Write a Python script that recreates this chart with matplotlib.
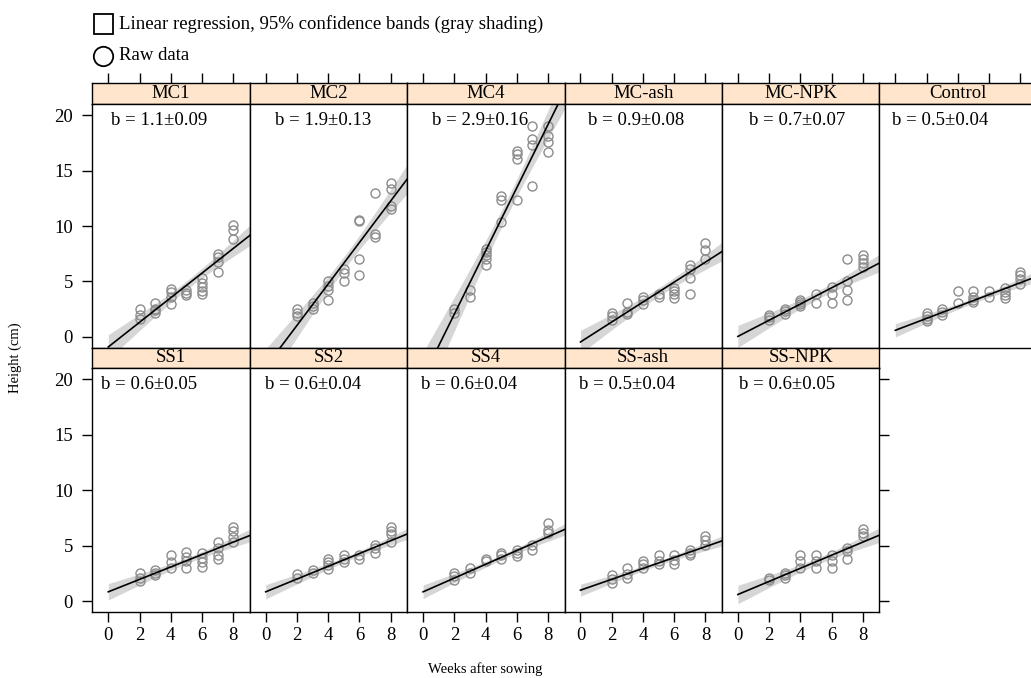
import numpy as np
import matplotlib
matplotlib.use("Agg")
import matplotlib.pyplot as plt
from matplotlib.patches import Rectangle, Circle

plt.rcParams['font.family'] = ['Liberation Serif', 'DejaVu Serif']

# ---------------- data ----------------
panels = ['MC1', 'MC2', 'MC4', 'MC-ash', 'MC-NPK', 'Control',
          'SS1', 'SS2', 'SS4', 'SS-ash', 'SS-NPK']
slope_labels = ['b = 1.1±0.09', 'b = 1.9±0.13', 'b = 2.9±0.16', 'b = 0.9±0.08',
                'b = 0.7±0.07', 'b = 0.5±0.04', 'b = 0.6±0.05', 'b = 0.6±0.04',
                'b = 0.6±0.04', 'b = 0.5±0.04', 'b = 0.6±0.05']
intercepts = [-0.90, -2.70, -3.64, -0.45, 0.05, 0.60, 0.84, 0.84, 0.84, 0.99, 0.60]
slopes = [1.11, 1.87, 2.85, 0.90, 0.73, 0.536, 0.56, 0.575, 0.62, 0.49, 0.59]

weeks = [2, 3, 4, 5, 6, 7, 8]

mc1 = [[2.5, 2.0, 1.6], [3.07, 2.56, 2.4, 2.17], [4.28, 4.06, 3.56, 3.0],
       [4.2, 3.97, 3.76], [5.36, 4.9, 4.5, 4.15, 3.85], [7.5, 7.17, 6.77, 5.87],
       [10.1, 9.6, 8.8]]
mc2 = [[2.55, 2.2, 1.85], [3.07, 2.8, 2.5], [5.05, 4.6, 4.2, 3.3],
       [6.1, 5.8, 5.05], [10.5, 10.45, 7.04, 5.57], [13.0, 9.27, 8.97],
       [13.84, 13.3, 11.8, 11.5]]
mc4 = [[2.55, 2.2], [4.19, 3.56], [7.9, 7.7, 7.4, 7.0, 6.47],
       [12.73, 12.37, 10.4], [16.8, 16.5, 16.07, 12.37], [19.04, 17.84, 17.27, 13.57],
       [19.04, 18.14, 17.57, 16.64]]
mc_ash = [[2.17, 1.87, 1.57], [3.07, 2.26, 2.1], [3.6, 3.3, 3.0],
          [3.9, 3.6], [4.45, 4.15, 3.85, 3.55], [6.47, 6.17, 5.32, 3.85],
          [8.5, 7.8, 7.05]]
mc_npk = [[2.02, 1.8, 1.57], [2.56, 2.35, 2.1], [3.37, 3.16, 2.95, 2.77],
          [3.85, 3.07], [4.51, 3.85, 3.07], [7.01, 5.05, 4.2, 3.3],
          [7.37, 7.07, 6.7, 6.3]]
control = [[2.17, 1.87, 1.66, 1.44], [2.56, 2.26, 1.96], [4.12, 3.07],
           [4.12, 3.6, 3.3, 3.16], [4.12, 3.6], [4.37, 4.06, 3.76, 3.52],
           [5.87, 5.57, 5.18, 4.73]]
ss1 = [[2.5, 2.13, 1.8], [2.79, 2.55, 2.34], [4.14, 3.54, 2.97],
       [4.41, 4.02, 3.63, 3.03], [4.35, 3.93, 3.54, 3.09], [5.29, 4.8, 4.18, 3.84],
       [6.66, 6.36, 5.79, 5.3]]
ss2 = [[2.43, 2.13], [2.79, 2.58], [3.84, 3.54, 3.24, 2.94],
       [4.14, 3.84, 3.54], [4.14, 3.78], [5.05, 4.75, 4.38],
       [6.64, 6.33, 6.04, 5.29]]
ss4 = [[2.55, 2.25, 1.89], [3.03, 2.58], [3.84, 3.63],
       [4.38, 4.14, 3.78], [4.65, 4.38, 4.08], [5.1, 4.65],
       [7.05, 6.4, 6.1]]
ss_ash = [[2.34, 2.04, 1.59], [3.03, 2.49, 2.1], [3.63, 3.33, 3.0],
          [4.14, 3.63, 3.33], [4.14, 3.69, 3.33], [4.65, 4.35, 4.14],
          [5.85, 5.5, 5.1]]
ss_npk = [[2.13, 1.89], [2.55, 2.34, 2.1], [4.14, 3.6, 3.03],
          [4.14, 3.6, 3.03], [4.14, 3.6, 3.03], [4.75, 4.53, 3.84],
          [6.46, 6.15, 5.85]]

raw = [mc1, mc2, mc4, mc_ash, mc_npk, control, ss1, ss2, ss4, ss_ash, ss_npk]

x_ticks = [0, 2, 4, 6, 8]
y_ticks = [0, 5, 10, 15, 20]

# ---------------- layout (pixels) ----------------
W, H = 1031, 678
fig = plt.figure(figsize=(W / 100, H / 100), dpi=100)
FS = 13.5
FS_LAB = 10.5


def px_axes(x0, y0, x1, y1):
    return fig.add_axes([x0 / W, 1 - y1 / H, (x1 - x0) / W, (y1 - y0) / H])


col_left = 92.3
col_w = 157.4
rows = [dict(strip=(83.3, 104.0), panel=(104.0, 347.5)),
        dict(strip=(347.5, 368.0), panel=(368.0, 611.7))]
xlim = (-1.024, 9.05)
ylim = (-0.95, 21.0)
label_xfrac = [0.121, 0.163, 0.156, 0.152, 0.172, 0.081,
               0.053, 0.100, 0.089, 0.091, 0.110]

strip_col = '#FFE5CC'
pt_col = '#8c8c8c'
band_col = '#d6d6d6'
SPW = 1.0

for k, name in enumerate(panels):
    r = 0 if k < 6 else 1
    c = k if k < 6 else k - 6
    x0 = col_left + c * col_w
    x1 = x0 + col_w
    sy0, sy1 = rows[r]['strip']
    py0, py1 = rows[r]['panel']

    # strip
    sax = px_axes(x0, sy0, x1, sy1)
    sax.set_facecolor(strip_col)
    sax.set_xlim(*xlim)
    sax.set_ylim(0, 1)
    sax.set_yticks([])
    for s in sax.spines.values():
        s.set_linewidth(SPW)
    sax.text(0.5, 0.5, name, transform=sax.transAxes, ha='center', va='center',
             fontsize=FS)
    if r == 0:
        sax.set_xticks(x_ticks)
        sax.tick_params(axis='x', bottom=False, top=True, labelbottom=False,
                        labeltop=False, direction='out', length=7, width=1.0)
    else:
        sax.set_xticks([])

    # panel
    ax = px_axes(x0, py0, x1, py1)
    ax.set_xlim(*xlim)
    ax.set_ylim(*ylim)
    for s in ax.spines.values():
        s.set_linewidth(SPW)

    xs_pts = np.concatenate([[w] * len(v) for w, v in zip(weeks, raw[k])])
    ys_pts = np.concatenate([v for v in raw[k]])

    a, b = intercepts[k], slopes[k]
    n = len(xs_pts)
    resid = ys_pts - (a + b * xs_pts)
    s_res = np.sqrt(np.sum(resid ** 2) / (n - 2))
    xbar = xs_pts.mean()
    sxx = np.sum((xs_pts - xbar) ** 2)
    xl = np.linspace(0, 9.3, 200)
    yl = a + b * xl
    hw = 2.05 * s_res * np.sqrt(1.0 / n + (xl - xbar) ** 2 / sxx)

    ax.fill_between(xl, yl - hw, yl + hw, color=band_col, lw=0, zorder=1)
    ax.plot(xs_pts, ys_pts, 'o', mfc='none', mec=pt_col, ms=6.5, mew=1.0, zorder=2)
    ax.plot(xl, yl, color='black', lw=1.2, zorder=3)

    ax.text(label_xfrac[k], 19.55, slope_labels[k], transform=ax.get_yaxis_transform(),
            ha='left', va='center', fontsize=FS)

    # ticks
    ax.set_xticks(x_ticks)
    ax.set_yticks(y_ticks)
    show_left = (c == 0)
    show_bottom = (r == 1)
    show_right = (r == 1 and c == 4) or (r == 0 and c == 5)
    ax.tick_params(axis='y', left=show_left, labelleft=show_left,
                   right=show_right, labelright=False,
                   direction='out', length=7, width=1.0, labelsize=FS, pad=7)
    ax.tick_params(axis='x', bottom=show_bottom, labelbottom=show_bottom,
                   top=False, direction='out', length=7, width=1.0,
                   labelsize=FS, pad=4)

# ---------------- overlay: legend and axis labels ----------------
lax = fig.add_axes([0, 0, 1, 1])
lax.set_xlim(0, W)
lax.set_ylim(H, 0)
lax.axis('off')
lax.add_patch(Rectangle((93.5, 14.0), 19.0, 20.0, fill=False, ec='black', lw=1.3))
lax.add_patch(Circle((103.5, 56.5), 9.7, fill=False, ec='black', lw=1.3))
lax.text(119, 24, 'Linear regression, 95% confidence bands (gray shading)',
         ha='left', va='center', fontsize=FS)
lax.text(119, 56, 'Raw data', ha='left', va='center', fontsize=FS)

fig.text(15 / W, 1 - 358 / H, 'Height (cm)', rotation=90, ha='center', va='center',
         fontsize=FS_LAB)
fig.text(485.6 / W, 1 - 669 / H, 'Weeks after sowing', ha='center', va='center',
         fontsize=FS_LAB)

fig.savefig('out.png', dpi=100)
